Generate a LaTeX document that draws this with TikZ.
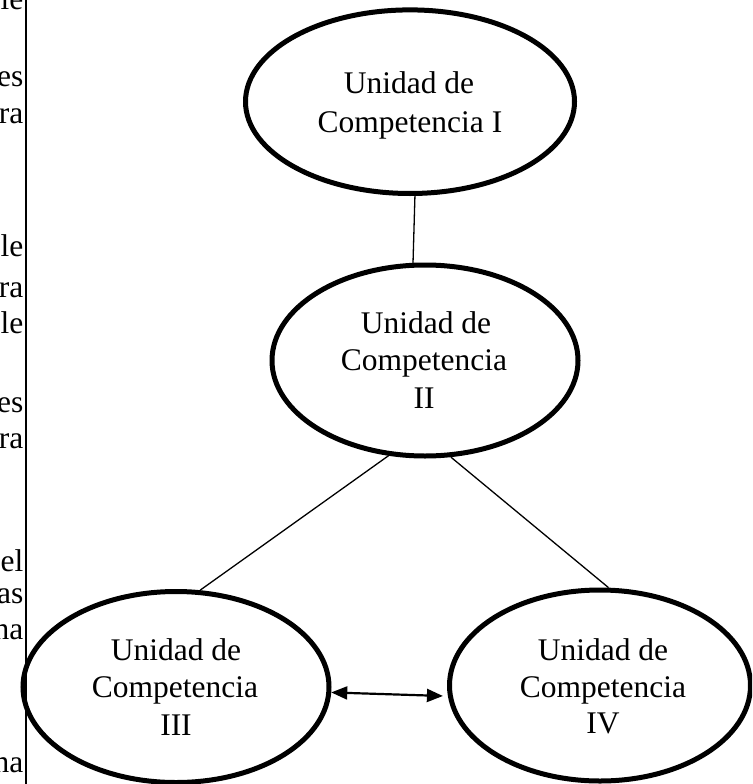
\documentclass[tikz,border=0pt]{standalone}
\usepackage{fontspec}
\setmainfont{Liberation Serif}
\usetikzlibrary{shapes.geometric,arrows.meta}
\begin{document}
\begin{tikzpicture}[x=1pt,y=-1pt,
  unit/.style={draw, ellipse, line width=5pt, inner sep=0pt},
  lbl/.style={anchor=base, inner sep=0pt, font=\fontsize{31.5}{38}\selectfont},
  frag/.style={anchor=base east, inner sep=0pt, font=\fontsize{31.5}{38}\selectfont},
  link/.style={line width=1.3pt},
  dbl/.style={line width=2.2pt, {Triangle[length=16pt,width=13pt]}-{Triangle[length=16pt,width=13pt]}},
  border/.style={line width=2pt}]
\useasboundingbox (0,0) rectangle (752,784);
\clip (0,0) rectangle (752,784);
% table border and clipped text of the neighbouring cell
\coordinate (bt) at (26.3,0);
\coordinate (bb) at (26.3,784);
\draw[border] (bt) -- (bb);
\node[frag] (f1) at (23.5,10) {le};
\node[frag] (f2) at (23.5,86) {es};
\node[frag] (f3) at (23.5,123) {ra};
\node[frag] (f4) at (23.5,256) {le};
\node[frag] (f5) at (23.5,297) {ra};
\node[frag] (f6) at (23.5,333) {le};
\node[frag] (f7) at (23.5,412) {es};
\node[frag] (f8) at (23.5,448) {ra};
\node[frag] (f9) at (23.5,571) {el};
\node[frag] (f10) at (23.5,603) {as};
\node[frag] (f11) at (23.5,639) {na};
\node[frag] (f12) at (23.5,772) {na};
% ellipses
\node[unit, minimum width=329pt, minimum height=183.6pt] (e1) at (410,101.7) {};
\node[unit, minimum width=306pt, minimum height=191pt] (e2) at (425,360.5) {};
\node[unit, minimum width=306pt, minimum height=191pt] (e3) at (176,687) {};
\node[unit, minimum width=301pt, minimum height=191pt] (e4) at (600,685.5) {};
% labels
\node[lbl] (t1a) at (409,93) {Unidad de};
\node[lbl] (t1b) at (410,132) {Competencia I};
\node[lbl] (t2a) at (426,333) {Unidad de};
\node[lbl] (t2b) at (424,370.5) {Competencia};
\node[lbl] (t2c) at (424,408) {II};
\node[lbl] (t3a) at (176,660) {Unidad de};
\node[lbl] (t3b) at (175,697) {Competencia};
\node[lbl] (t3c) at (176,735) {III};
\node[lbl] (t4a) at (603,660) {Unidad de};
\node[lbl] (t4b) at (603,697) {Competencia};
\node[lbl] (t4c) at (603,733) {IV};
% connectors
\draw[link] (e1.273) -- (e2.97);
\draw[link] (e2.249) -- (e3.76);
\draw[link] (e2.285) -- (e4.85);
\draw[dbl, shorten >=5pt] (e3.358) -- (e4.184);
\end{tikzpicture}
\end{document}
